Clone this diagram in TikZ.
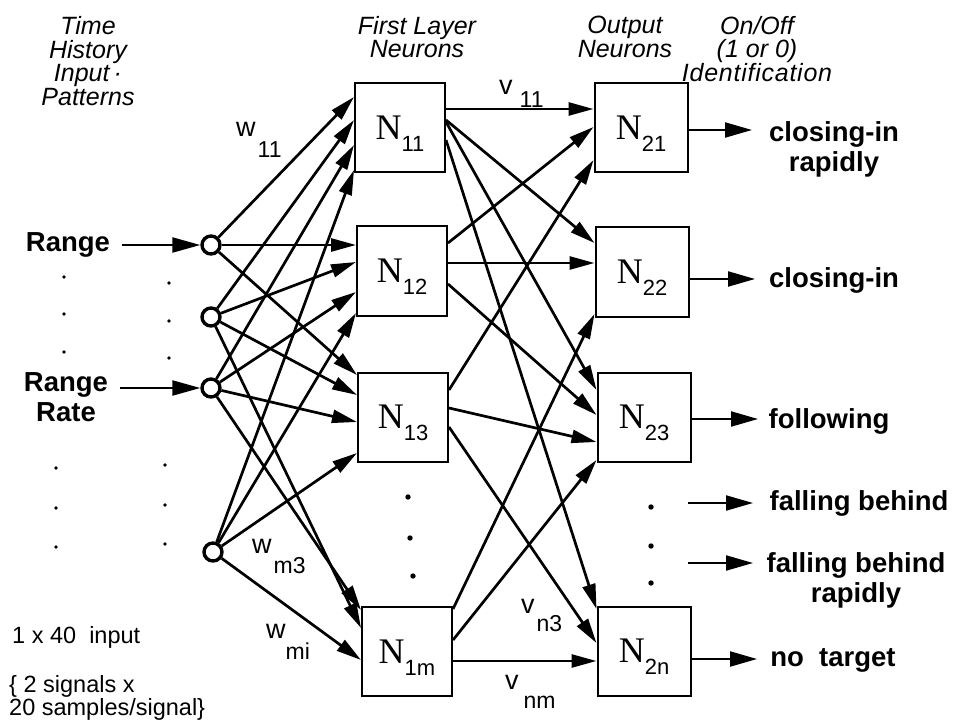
\documentclass[tikz,border=0pt]{standalone}
\usepackage{fontspec}
\setmainfont{Liberation Sans}
\newfontfamily\serifN{Liberation Serif}
\usetikzlibrary{arrows.meta,calc}
\newcommand\wsub[4]{#1\hspace{#4}\raisebox{-#3}{\fontsize{23}{23}\selectfont #2}}
\newcommand\nlab[1]{{\serifN\fontsize{36}{36}\selectfont N}\smash{\raisebox{-12pt}{\fontsize{22}{22}\selectfont #1}}}
\tikzset{
  nbox/.style={draw, line width=2pt, minimum width=90pt, minimum height=89pt, inner sep=0pt},
  obox/.style={nbox, minimum width=93pt},
  inpt/.style={circle, draw, line width=3.4pt, minimum size=18pt, inner sep=0pt},
  conn/.style={line width=2.7pt, -{Triangle[length=25pt,width=13pt]}},
  inarr/.style={line width=2.3pt, -{Triangle[length=28pt,width=15pt]}},
  outarr/.style={line width=2.1pt, -{Triangle[length=27pt,width=15pt]}},
  hdr/.style={font=\fontsize{25}{23.5}\selectfont\itshape, align=center, inner sep=0pt},
  blab/.style={font=\fontsize{27.5}{30}\selectfont\bfseries, align=center, inner sep=0pt},
  plab/.style={font=\fontsize{23.5}{23}\selectfont, inner sep=0pt, anchor=base west},
  wlab/.style={font=\fontsize{27}{27}\selectfont, inner sep=0pt, anchor=base west},
  smalldot/.style={fill=black},
}
\begin{document}
\begin{tikzpicture}[x=1pt,y=-1pt]
\useasboundingbox (0,0) rectangle (955,727);
\fill[white] (0,0) rectangle (955,727);

% headers
\node[hdr] (hist) at (88,61) {Time\\History\\Input\,·\\Patterns};
\node[hdr] (fl) at (417,37) {First Layer\\Neurons};
\node[hdr] (on) at (625,37) {Output\\Neurons};
\node[hdr] (id) at (757,49) {On/Off\\(1 or 0)\\{\addfontfeature{LetterSpace=3}Identification}};

% input circles
\node[inpt] (c1) at (211,245) {};
\node[inpt] (c2) at (211,317) {};
\node[inpt] (c3) at (211,388) {};
\node[inpt] (c4) at (213,552) {};

% first layer
\node[nbox] (n11) at (400,128) {\nlab{11}};
\node[nbox] (n12) at (402,271) {\nlab{12}};
\node[nbox] (n13) at (403,417) {\nlab{13}};
\node[nbox] (n1m) at (407,651.5) {\nlab{1m}};

% output layer
\node[obox] (n21) at (641,128) {\nlab{21}};
\node[obox] (n22) at (642,272) {\nlab{22}};
\node[obox] (n23) at (644,417) {\nlab{23}};
\node[obox] (n2n) at (644,651) {\nlab{2n}};

% input labels
\node[blab] (range) at (68,245) {Range};
\node[blab] (rrate) at (66,397) {Range\\Rate};
\draw[inarr] ([xshift=12pt]range.east) -- (c1);
\draw[inarr] ([xshift=12pt]rrate.east |- c3) -- (c3);

% dots
\foreach \p in {(64,277),(64,314),(64,352),(169,283),(169,321),(169,358),
                (56,468),(56,508),(56,547),(165,465),(165,505),(165,544)}
  \fill[smalldot] \p circle (1.9pt);
\foreach \p in {(408,497),(410,538),(413,576),(651,507),(651,546),(651,583)}
  \fill[smalldot] \p circle (2.7pt);

% input -> first layer
\draw[conn] (c1) -- (n11.west |- 0,97);
\draw[conn] (c2) -- (n11.west |- 0,120);
\draw[conn] (c3) -- (n11.west |- 0,145);
\draw[conn] (c4) -- (n11.west |- 0,170);
\draw[conn] (c1) -- (n12.west |- 0,245);
\draw[conn] (c2) -- (n12.west |- 0,262);
\draw[conn] (c3) -- (n12.west |- 0,292);
\draw[conn] (c4) -- (n12.west |- 0,313);
\draw[conn] (c1) -- (n13.west |- 0,375);
\draw[conn] (c2) -- (n13.west |- 0,395);
\draw[conn] (c3) -- (n13.west |- 0,422);
\draw[conn] (c4) -- (n13.west |- 0,453);
\draw[conn] (c3) -- (n1m.west |- 0,610);
\draw[conn] (c2) -- (n1m.west |- 0,628);
\draw[conn] (c4) -- (n1m.west |- 0,660);

% first layer -> output
\draw[conn] (n11.east |- 0,109) -- (n21.west |- 0,109);
\draw[conn] (n11.east |- 0,120) -- (n22.west |- 0,243);
\draw[conn] (n11.east |- 0,122) -- (n23.west |- 0,390);
\draw[conn] (n11.east |- 0,140) -- (n2n.west |- 0,609);
\draw[conn] (n12.east |- 0,243) -- (n21.west |- 0,127);
\draw[conn] (n12.east |- 0,263) -- (n22.west |- 0,263);
\draw[conn] (n12.east |- 0,284) -- (n23.west |- 0,415);
\draw[conn] (n13.east |- 0,390) -- (n21.west |- 0,160);
\draw[conn] (n13.east |- 0,408) -- (n23.west |- 0,442);
\draw[conn] (n13.east |- 0,427) -- (n2n.west |- 0,643);
\draw[conn] (n1m.east |- 0,609) -- (n22.west |- 0,314);
\draw[conn] (n1m.east |- 0,640) -- (n23.west |- 0,460);
\draw[conn] (n1m.east |- 0,661) -- (n2n.west |- 0,661);

% weight labels
\node[wlab] (w11) at (236,137) {\wsub{w}{11}{21pt}{2pt}};
\node[wlab] (wm3) at (252,553) {\wsub{w}{m3}{20pt}{2pt}};
\node[wlab] (wmi) at (266,638) {\wsub{w}{mi}{21pt}{0pt}};
\node[wlab] (v11) at (499,95) {\wsub{v}{11}{13pt}{7pt}};
\node[wlab] (vn3) at (521,613) {\wsub{v}{n3}{18pt}{2pt}};
\node[wlab] (vnm) at (505,689) {\wsub{v}{nm}{19pt}{5pt}};

% output labels
\node[blab] (lab1) at (834,149) {closing-in\\rapidly};
\node[blab] (lab2) at (834,280) {closing-in};
\node[blab] (lab3) at (829,421) {following};
\node[blab] (lab4) at (859,503) {falling behind};
\node[blab] (lab5) at (856,580) {falling behind\\rapidly};
\node[blab] (lab6) at (833,660) {no\ \ target};

\coordinate (e1) at (752,130);
\coordinate (e2) at (755,279);
\coordinate (e3) at (758,419);
\coordinate (f1s) at (688,503);
\coordinate (f1e) at (753,503);
\coordinate (f2s) at (688,563);
\coordinate (f2e) at (753,563);
\coordinate (e6) at (757,659);
\draw[outarr] (n21.east |- e1) -- (e1);
\draw[outarr] (n22.east |- e2) -- (e2);
\draw[outarr] (n23.east |- e3) -- (e3);
\draw[outarr] (f1s) -- (f1e);
\draw[outarr] (f2s) -- (f2e);
\draw[outarr] (n2n.east |- e6) -- (e6);

% bottom-left notes
\node[plab] (dims) at (12,643) {1 x 40\ \ input};
\node[plab] (sig1) at (9,692) {\{ 2 signals x};
\node[plab] (sig2) at (9,715) {20 samples/signal\}};
\end{tikzpicture}
\end{document}
